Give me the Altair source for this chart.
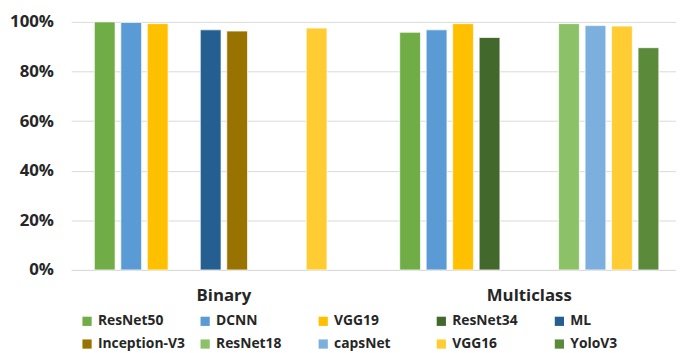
import altair as alt
import pandas as pd

models = ["ResNet50", "DCNN", "VGG19", "ResNet34", "ML",
          "Inception-V3", "ResNet18", "capsNet", "VGG16", "YoloV3"]
colors = ["#70AD47", "#5B9BD5", "#FFC000", "#43682B", "#255E91",
          "#997300", "#8CC168", "#7CAFDD", "#FFCD33", "#5B8A3A"]
groups = ["Binary", "Multiclass"]
binary = [1.000, 0.998, 0.993, None, 0.968, 0.963, None, None, 0.975, None]
multiclass = [0.958, 0.968, 0.993, 0.937, None, None, 0.993, 0.985, 0.983, 0.896]
y_ticks = [0, 0.2, 0.4, 0.6, 0.8, 1.0]

rows = []
for g, vals in zip(groups, [binary, multiclass]):
    for m, v in zip(models, vals):
        if v is not None:
            rows.append({"group": g, "model": m, "acc": v})
df = pd.DataFrame(rows)

FONT = "Open Sans"
TXT = "#262626"

chart = alt.Chart(df).mark_bar(stroke="white", strokeWidth=1, strokeOpacity=0.7).encode(
    x=alt.X("group:N", sort=groups, title=None,
            scale=alt.Scale(domain=groups,
                            paddingInner=0.1327, paddingOuter=0.0663),
            axis=alt.Axis(labelAngle=0, ticks=False, domainColor="#d9d9d9",
                          domainWidth=1, labelFont=FONT, labelFontSize=17,
                          labelFontWeight="bold", labelColor=TXT, labelPadding=18)),
    xOffset=alt.XOffset("model:N", sort=models,
                        scale=alt.Scale(domain=models, paddingInner=0.216,
                                        paddingOuter=0.108)),
    y=alt.Y("acc:Q", title=None, scale=alt.Scale(domain=[0, 1], nice=False),
            axis=alt.Axis(format=".0%", values=y_ticks, ticks=False, domain=False,
                          gridColor="#d9d9d9", gridWidth=1, labelFont=FONT,
                          labelFontSize=17, labelFontWeight="bold", labelColor=TXT,
                          labelPadding=18)),
    color=alt.Color("model:N", sort=models,
                    scale=alt.Scale(domain=models, range=colors),
                    legend=alt.Legend(title=None, orient="none", legendX=9, legendY=296,
                                      columns=5, direction="horizontal",
                                      gridAlign="all", columnPadding=13.5,
                                      rowPadding=9, symbolType="square",
                                      symbolSize=87, symbolStrokeWidth=0,
                                      labelFont=FONT, labelFontSize=14,
                                      labelFontWeight="bold", labelColor=TXT,
                                      labelOffset=4)),
).properties(
    width=618, height=251,
    autosize=alt.AutoSizeParams(type="none"),
    padding={"left": 64, "top": 12, "right": -6, "bottom": 82},
).configure_view(stroke=None)

chart.save("out.html", embed_options={"renderer": "svg", "actions": False})
